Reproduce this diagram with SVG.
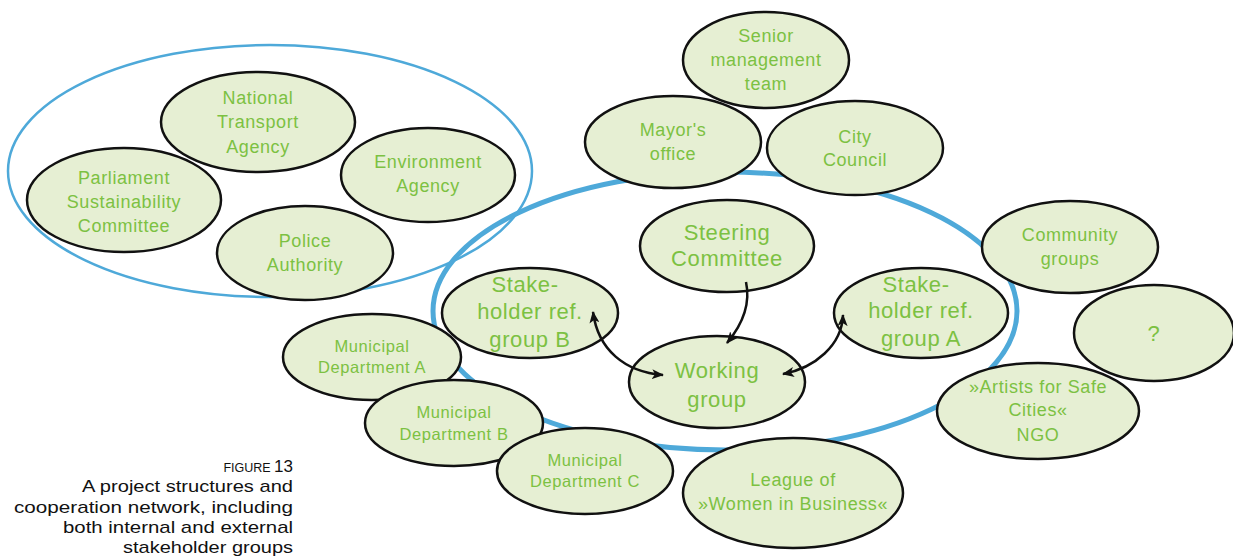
<svg xmlns="http://www.w3.org/2000/svg" width="1233" height="559" viewBox="0 0 1233 559">
<style>
.ring{fill:none;stroke:#4ea9d9}
.node ellipse{fill:#e6efd3;stroke:#111;stroke-width:2.5}
.node text{fill:#7cc142;font-family:"Liberation Sans","DejaVu Sans",sans-serif;font-size:18px;text-anchor:middle;letter-spacing:0.6px}
.node text.big{font-size:22px}
.node text.sm{font-size:16.5px}
.conn path{fill:none;stroke:#111;stroke-width:2.5;marker-end:url(#ah)}
.conn path.both{marker-start:url(#ahs)}
.cap{font-family:"Liberation Sans","DejaVu Sans",sans-serif;fill:#111;text-anchor:end;font-size:17px}
</style>
<defs>
<marker id="ah" viewBox="0 0 12 10" refX="11" refY="5" markerWidth="12" markerHeight="10" markerUnits="userSpaceOnUse" orient="auto">
<path d="M0,0 L12,5 L0,10 L3,5 Z" fill="#111"/>
</marker>
<marker id="ahs" viewBox="0 0 12 10" refX="1" refY="5" markerWidth="12" markerHeight="10" markerUnits="userSpaceOnUse" orient="auto">
<path d="M12,0 L0,5 L12,10 L9,5 Z" fill="#111"/>
</marker>
</defs>
<g id="groups">
<ellipse class="ring" cx="270" cy="171" rx="262" ry="126" stroke-width="2.5"/>
<ellipse class="ring" cx="725" cy="311" rx="292" ry="139" stroke-width="5"/>
</g>
<g id="n-senior" class="node"><ellipse cx="766" cy="60" rx="83" ry="48"/><text x="766" y="42">Senior</text><text x="766" y="66">management</text><text x="766" y="90">team</text></g>
<g id="n-mayor" class="node"><ellipse cx="673" cy="142" rx="88" ry="46"/><text x="673" y="136">Mayor's</text><text x="673" y="160">office</text></g>
<g id="n-council" class="node"><ellipse cx="855" cy="148" rx="88" ry="47"/><text x="855" y="143">City</text><text x="855" y="166">Council</text></g>
<g id="n-nta" class="node"><ellipse cx="258" cy="122" rx="97" ry="50"/><text x="258" y="104">National</text><text x="258" y="128">Transport</text><text x="258" y="153">Agency</text></g>
<g id="n-parl" class="node"><ellipse cx="124" cy="200" rx="97" ry="52"/><text x="124" y="184">Parliament</text><text x="124" y="208">Sustainability</text><text x="124" y="232">Committee</text></g>
<g id="n-env" class="node"><ellipse cx="428" cy="175" rx="87" ry="47"/><text x="428" y="168">Environment</text><text x="428" y="192">Agency</text></g>
<g id="n-police" class="node"><ellipse cx="305" cy="253" rx="88" ry="47"/><text x="305" y="247">Police</text><text x="305" y="271">Authority</text></g>
<g id="n-steer" class="node"><ellipse cx="727" cy="246" rx="87" ry="46"/><text class="big" x="727" y="240">Steering</text><text class="big" x="727" y="266">Committee</text></g>
<g id="n-shb" class="node"><ellipse cx="530" cy="313" rx="88" ry="45"/><text class="big" x="525" y="292">Stake-</text><text class="big" x="530" y="319">holder ref.</text><text class="big" x="530" y="347">group B</text></g>
<g id="n-sha" class="node"><ellipse cx="921" cy="313" rx="87" ry="45"/><text class="big" x="916" y="292">Stake-</text><text class="big" x="921" y="318">holder ref.</text><text class="big" x="921" y="346">group A</text></g>
<g id="n-work" class="node"><ellipse cx="717" cy="382" rx="88" ry="46"/><text class="big" x="717" y="378">Working</text><text class="big" x="717" y="407">group</text></g>
<g id="n-comm" class="node"><ellipse cx="1070" cy="247" rx="88" ry="46"/><text x="1070" y="241">Community</text><text x="1070" y="265">groups</text></g>
<g id="n-q" class="node"><ellipse cx="1154" cy="333" rx="80" ry="48"/><text class="big" x="1154" y="341" font-size="25px">?</text></g>
<g id="n-artists" class="node"><ellipse cx="1038" cy="411" rx="101" ry="48"/><text x="1038" y="393">»Artists for Safe</text><text x="1038" y="416">Cities«</text><text x="1038" y="441">NGO</text></g>
<g id="n-depa" class="node"><ellipse cx="372" cy="357" rx="89" ry="43"/><text class="sm" x="372" y="352">Municipal</text><text class="sm" x="372" y="373">Department A</text></g>
<g id="n-depb" class="node"><ellipse cx="454" cy="423" rx="89" ry="43"/><text class="sm" x="454" y="418">Municipal</text><text class="sm" x="454" y="440">Department B</text></g>
<g id="n-depc" class="node"><ellipse cx="585" cy="471" rx="88" ry="43"/><text class="sm" x="585" y="466">Municipal</text><text class="sm" x="585" y="487">Department C</text></g>
<g id="n-league" class="node"><ellipse cx="793" cy="493" rx="110" ry="55"/><text x="793" y="486">League of</text><text x="793" y="510">»Women in Business«</text></g>
<g id="connectors" class="conn">
<path d="M746,282 C751,305 742,325 727,343"/>
<path class="both" d="M593,312 C598,350 625,372 663,375"/>
<path class="both" d="M783,374 C815,368 842,345 843,315"/>
</g>
<g id="caption">
<text class="cap" x="293" y="472"><tspan font-size="12.5px">FIGURE </tspan><tspan font-size="17px">13</tspan></text>
<text class="cap" x="293" y="492" textLength="211" lengthAdjust="spacingAndGlyphs">A project structures and</text>
<text class="cap" x="293" y="513" textLength="279" lengthAdjust="spacingAndGlyphs">cooperation network, including</text>
<text class="cap" x="293" y="533" textLength="230" lengthAdjust="spacingAndGlyphs">both internal and external</text>
<text class="cap" x="293" y="553" textLength="170" lengthAdjust="spacingAndGlyphs">stakeholder groups</text>
</g>
</svg>
